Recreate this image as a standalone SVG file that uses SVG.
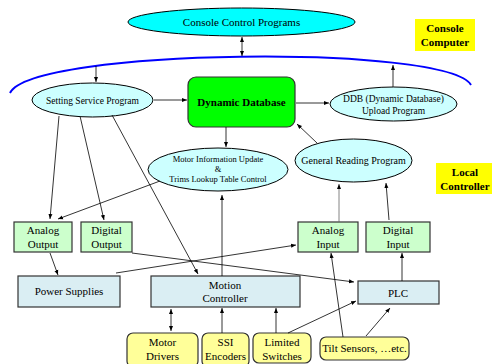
<svg xmlns="http://www.w3.org/2000/svg" width="493" height="364" viewBox="0 0 493 364">
<defs>
<marker id="ah" viewBox="0 0 10 10" refX="10" refY="5" markerWidth="5" markerHeight="5" orient="auto-start-reverse" markerUnits="userSpaceOnUse">
<path d="M0,1 L10,5 L0,9 z" fill="#000"/>
</marker>
<style>
text{font-family:"Liberation Serif","Times New Roman",serif;fill:#000;text-anchor:middle}
.e{stroke:#000;stroke-width:1}
.cyan{fill:#00ffff}
.lc{fill:#ccffff}
.g{fill:#ccffcc;stroke:#333;stroke-width:1.2}
.b{fill:#daeef3;stroke:#333;stroke-width:1.2}
.y{fill:#ffff99;stroke:#333;stroke-width:1.2}
.lbl{fill:#ffff00}
.c line,.c path{stroke:#000;stroke-width:0.8;fill:none}
.bold{font-weight:bold}
</style>
</defs>
<rect width="493" height="364" fill="#fff"/>

<g id="console-programs">
<ellipse class="e cyan" cx="241.5" cy="22" rx="113.5" ry="14"/>
<text x="241.5" y="26" font-size="11">Console Control Programs</text>
</g>

<g id="bus">
<path d="M10,93 C32,48 448,44 471,85" fill="none" stroke="#0000ff" stroke-width="2"/>
</g>

<g id="console-computer">
<rect class="lbl" x="415" y="19" width="60" height="32"/>
<text class="bold" x="445" y="32" font-size="11">Console</text>
<text class="bold" x="445" y="46" font-size="11">Computer</text>
</g>

<g id="local-controller">
<rect class="lbl" x="436" y="163" width="56" height="31"/>
<text class="bold" x="465" y="176" font-size="11">Local</text>
<text class="bold" x="465" y="190" font-size="11">Controller</text>
</g>

<g id="setting-service">
<ellipse class="e lc" cx="92.5" cy="100" rx="60.5" ry="17"/>
<text x="92.5" y="103.5" font-size="9.5">Setting Service Program</text>
</g>

<g id="dynamic-db">
<rect x="188" y="77" width="107" height="50" rx="8" fill="#00ff00" stroke="#333" stroke-width="1.2"/>
<text class="bold" x="241.5" y="106" font-size="11">Dynamic Database</text>
</g>

<g id="ddb-upload">
<ellipse class="e lc" cx="393.5" cy="104" rx="63.5" ry="17"/>
<text x="393.5" y="102" font-size="9.5">DDB (Dynamic Database)</text>
<text x="393.5" y="114" font-size="9.5">Upload Program</text>
</g>

<g id="motor-info">
<ellipse class="e lc" cx="218" cy="169.5" rx="70" ry="21.5"/>
<text x="218" y="162" font-size="8.5">Motor Information Update</text>
<text x="218" y="172" font-size="8.5">&amp;</text>
<text x="218" y="182" font-size="8.5">Trims Lookup Table Control</text>
</g>

<g id="general-reading">
<ellipse class="e lc" cx="353.5" cy="160.5" rx="58.5" ry="21.5"/>
<text x="353.5" y="164" font-size="10">General Reading Program</text>
</g>

<g id="analog-output">
<rect class="g" x="14" y="222" width="58" height="30"/>
<text x="43" y="234" font-size="11">Analog</text>
<text x="43" y="248" font-size="11">Output</text>
</g>

<g id="digital-output">
<rect class="g" x="81" y="222" width="51" height="30"/>
<text x="106.5" y="234" font-size="11">Digital</text>
<text x="106.5" y="248" font-size="11">Output</text>
</g>

<g id="analog-input">
<rect class="g" x="298" y="222" width="60" height="30"/>
<text x="328" y="234" font-size="11">Analog</text>
<text x="328" y="248" font-size="11">Input</text>
</g>

<g id="digital-input">
<rect class="g" x="366" y="222" width="64" height="30"/>
<text x="398" y="234" font-size="11">Digital</text>
<text x="398" y="248" font-size="11">Input</text>
</g>

<g id="power-supplies">
<rect class="b" x="18" y="276" width="102" height="31"/>
<text x="69" y="295" font-size="11">Power Supplies</text>
</g>

<g id="motion-controller">
<rect class="b" x="151" y="276" width="149" height="31"/>
<text x="225" y="289" font-size="11">Motion</text>
<text x="225" y="302" font-size="11">Controller</text>
</g>

<g id="plc">
<rect class="b" x="358" y="281" width="81" height="23"/>
<text x="398" y="296.5" font-size="11">PLC</text>
</g>

<g id="motor-drivers">
<rect class="y" x="127" y="333" width="71" height="34" rx="6"/>
<text x="162.5" y="346" font-size="11">Motor</text>
<text x="162.5" y="360" font-size="11">Drivers</text>
</g>

<g id="ssi-encoders">
<rect class="y" x="202" y="333" width="47" height="34" rx="6"/>
<text x="225.5" y="346" font-size="11">SSI</text>
<text x="225.5" y="360" font-size="11">Encoders</text>
</g>

<g id="limited-switches">
<rect class="y" x="253" y="333" width="58" height="30" rx="6"/>
<text x="282" y="346" font-size="11">Limited</text>
<text x="282" y="360" font-size="11">Switches</text>
</g>

<g id="tilt-sensors">
<rect class="y" x="320" y="337" width="89" height="23" rx="6"/>
<text x="364.5" y="352" font-size="11">Tilt Sensors, …etc.</text>
</g>

<g id="connectors" class="c">
<line x1="242" y1="37" x2="242" y2="56" marker-start="url(#ah)" marker-end="url(#ah)"/>
<line x1="96" y1="66" x2="96" y2="82" marker-end="url(#ah)"/>
<line x1="154" y1="100" x2="187" y2="100" marker-end="url(#ah)"/>
<line x1="296" y1="103" x2="329" y2="103" marker-end="url(#ah)"/>
<line x1="393" y1="87" x2="393" y2="65" marker-end="url(#ah)"/>
<line x1="226" y1="127" x2="226" y2="147" marker-end="url(#ah)"/>
<line x1="317" y1="143" x2="297" y2="124" marker-end="url(#ah)"/>
<line x1="59" y1="116" x2="50" y2="219" marker-end="url(#ah)"/>
<line x1="80" y1="116" x2="104" y2="220" marker-end="url(#ah)"/>
<line x1="112" y1="115" x2="198" y2="274" marker-end="url(#ah)"/>
<line x1="160" y1="181" x2="58" y2="219" marker-end="url(#ah)"/>
<line x1="222" y1="276" x2="222" y2="195" marker-end="url(#ah)"/>
<line x1="132" y1="253" x2="354" y2="282" marker-end="url(#ah)"/>
<line x1="116" y1="273" x2="296" y2="245" marker-end="url(#ah)"/>
<line x1="50" y1="253" x2="58" y2="275" marker-end="url(#ah)"/>
<line x1="171" y1="309" x2="171" y2="331" marker-start="url(#ah)" marker-end="url(#ah)"/>
<line x1="222" y1="333" x2="222" y2="308" marker-end="url(#ah)"/>
<line x1="276" y1="333" x2="276" y2="308" marker-end="url(#ah)"/>
<line x1="288" y1="333" x2="356" y2="301" marker-end="url(#ah)"/>
<line x1="343" y1="337" x2="331" y2="253" marker-end="url(#ah)"/>
<line x1="366" y1="336" x2="390" y2="308" marker-end="url(#ah)"/>
<line x1="402" y1="281" x2="402" y2="253" marker-end="url(#ah)"/>
<line x1="339" y1="222" x2="339" y2="184" marker-end="url(#ah)" style="stroke:#666"/>
<line x1="389" y1="220" x2="386" y2="183" marker-end="url(#ah)"/>
</g>
</svg>
